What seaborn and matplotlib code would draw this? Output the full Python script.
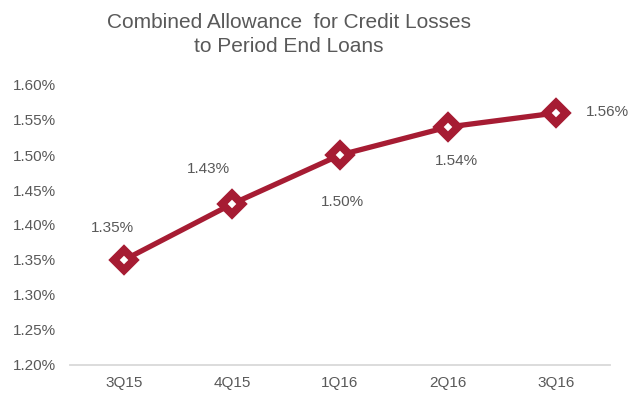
import matplotlib
matplotlib.use("Agg")
import matplotlib.pyplot as plt
import seaborn as sns
import pandas as pd

quarters = ["3Q15", "4Q15", "1Q16", "2Q16", "3Q16"]
values = [1.35, 1.43, 1.50, 1.54, 1.56]
labels = ["1.35%", "1.43%", "1.50%", "1.54%", "1.56%"]
yticks = [1.20, 1.25, 1.30, 1.35, 1.40, 1.45, 1.50, 1.55, 1.60]

sns.set_theme(style="white")
plt.rcParams['font.family'] = ['Liberation Sans', 'DejaVu Sans']

df = pd.DataFrame({"q": quarters, "v": values})
df["x"] = range(len(quarters))

fig = plt.figure(figsize=(6.29, 3.93), dpi=100)
ax = fig.add_axes([70 / 629, 1 - 365 / 393, 540 / 629, 280 / 393])
red = "#A61C33"
sns.lineplot(data=df, x="x", y="v", ax=ax, color=red, linewidth=3.8,
             marker="D", markersize=9.8, markerfacecolor="white",
             markeredgecolor=red, markeredgewidth=5.8)

ax.set_xlim(-0.5, 4.5)
ax.set_ylim(1.20, 1.60)
ax.set_xticks(range(len(quarters)))
ax.set_xticklabels(quarters)
ax.set_yticks(yticks)
ax.set_yticklabels([f"{t:.2f}%" for t in yticks])
ax.set_xlabel("")
ax.set_ylabel("")
gray = "#595959"
ax.tick_params(axis="both", colors=gray, labelsize=11, length=0)
ax.tick_params(axis="y", pad=10)
ax.tick_params(axis="x", pad=8)
for s in ["top", "right", "left"]:
    ax.spines[s].set_visible(False)
ax.spines["bottom"].set_color("#D9D9D9")
ax.spines["bottom"].set_linewidth(1.3)

offsets = [(-12, 32), (-24, 35), (2, -47), (8, -34), (51, 1)]
for i, (v, lab, off) in enumerate(zip(values, labels, offsets)):
    ax.annotate(lab, (i, v), xytext=off, textcoords="offset pixels",
                ha="center", va="center", fontsize=11, color=gray)

fig.text(289 / 629, 1 - 22 / 393, "Combined Allowance  for Credit Losses", ha="center",
         va="center", fontsize=15, color=gray)
fig.text(289 / 629, 1 - 47 / 393, "to Period End Loans", ha="center",
         va="center", fontsize=15, color=gray)

fig.savefig("out.png", dpi=100)
